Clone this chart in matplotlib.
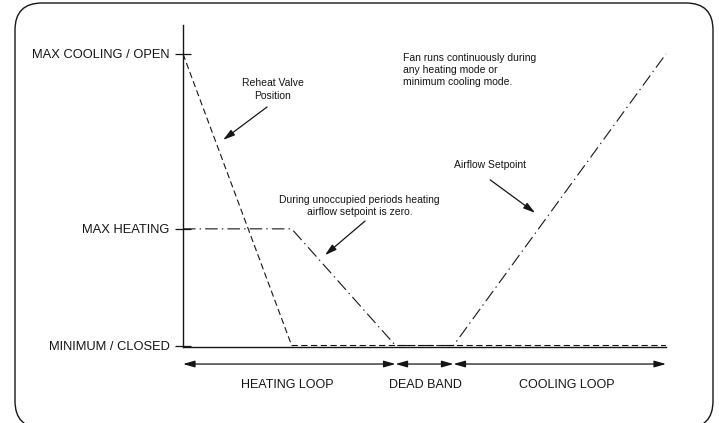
import matplotlib
matplotlib.use('Agg')
import matplotlib.pyplot as plt
from matplotlib.patches import FancyBboxPatch

# ---------------------------------------------------------#
# Sequence of operation: reheat valve and airflow setpoint  #
# vs. zone loop output (x in %, y in % of range)            #
# ---------------------------------------------------------#
levels       = [0, 40, 100]
level_labels = ['MINIMUM / CLOSED', 'MAX HEATING', 'MAX COOLING / OPEN']

valve_x   = [0, 22.5, 100]
valve_y   = [100, 0, 0]
airflow_x = [0, 22.5, 44, 56, 100]
airflow_y = [40, 40, 0, 0, 100]

loop_edges = [0, 44, 56, 100]
loop_names = ['HEATING LOOP', 'DEAD BAND', 'COOLING LOOP']

ink   = '#151515'
cad   = ['Liberation Sans Narrow', 'Liberation Sans', 'DejaVu Sans']
small = ['Liberation Sans', 'DejaVu Sans']

plt.rcParams['lines.scale_dashes'] = False

W, H = 719, 423
fig = plt.figure(figsize=(W/100, H/100), dpi=100)

# sheet border with rounded corners (frame axes in pixels, y up)
frame = fig.add_axes([0, 0, 1, 1])
frame.set_xlim(0, W)
frame.set_ylim(0, H)
frame.axis('off')
frame.add_patch(FancyBboxPatch((15, -5), 698, 425,
                               boxstyle='round,pad=0,rounding_size=27',
                               fill=False, ec=ink, lw=1.0, clip_on=False))

# plot area: left spine at x=183px, baseline at y=347px
ax = fig.add_axes([183/W, (H-347)/H, (666-183)/W, (347-25)/H])
ax.patch.set_alpha(0)
ax.set_xlim(0, 100)
ax.set_ylim(-0.51, 109.9)
for s in ['top', 'right']:
    ax.spines[s].set_visible(False)
for s in ['left', 'bottom']:
    ax.spines[s].set_linewidth(1.0)
    ax.spines[s].set_color(ink)

ax.set_xticks([])
ax.set_yticks(levels)
ax.set_yticklabels(level_labels, family=cad, fontsize=9.3, color=ink)
ax.tick_params(axis='y', direction='inout', length=12.2, width=0.9,
               color=ink, pad=3.6)

ax.plot(valve_x, valve_y, color=ink, lw=0.8,
        linestyle=(0, (4.5, 2.5)), clip_on=False)
ax.plot(airflow_x, airflow_y, color=ink, lw=0.8,
        linestyle=(0, (9, 3, 1, 3)), clip_on=False)

# loop dimension arrows under the axis
row_y = -6.35
name_x = [21.5, 50.1, 79.5]
for a, b in zip(loop_edges[:-1], loop_edges[1:]):
    ax.annotate('', xy=(b, row_y), xytext=(a, row_y), annotation_clip=False,
                arrowprops=dict(arrowstyle='<|-|>,head_length=7,head_width=2',
                                mutation_scale=1, color=ink, lw=0.9,
                                shrinkA=0, shrinkB=0))
for x, name in zip(name_x, loop_names):
    ax.text(x, -13.5, name, ha='center', va='center',
            family=cad, fontsize=9, color=ink, clip_on=False)

# callouts
note_fs = 7.5
pointer = dict(arrowstyle='-|>,head_length=7,head_width=2', mutation_scale=1,
               color=ink, lw=0.9, shrinkA=0, shrinkB=0)
ax.text(18.6, 87.8, 'Reheat Valve\nPosition', ha='center', va='center',
        family=small, fontsize=note_fs, color=ink, linespacing=1.3)
ax.annotate('', xy=(8.3, 70.5), xytext=(17.4, 81.8), arrowprops=pointer)

ax.text(36.6, 47.9, 'During unoccupied periods heating\nairflow setpoint is zero.',
        ha='center', va='center', family=small, fontsize=note_fs, color=ink,
        linespacing=1.3)
ax.annotate('', xy=(29.4, 31.0), xytext=(37.7, 42.7), arrowprops=pointer)

ax.text(45.5, 94.5, 'Fan runs continuously during\nany heating mode or\nminimum cooling mode.',
        ha='left', va='center', family=small, fontsize=note_fs, color=ink,
        linespacing=1.3)

ax.text(63.6, 61.9, 'Airflow Setpoint', ha='center', va='center',
        family=small, fontsize=note_fs, color=ink)
ax.annotate('', xy=(72.9, 45.5), xytext=(63.6, 56.8), arrowprops=pointer)

fig.savefig('out.png', dpi=100)
